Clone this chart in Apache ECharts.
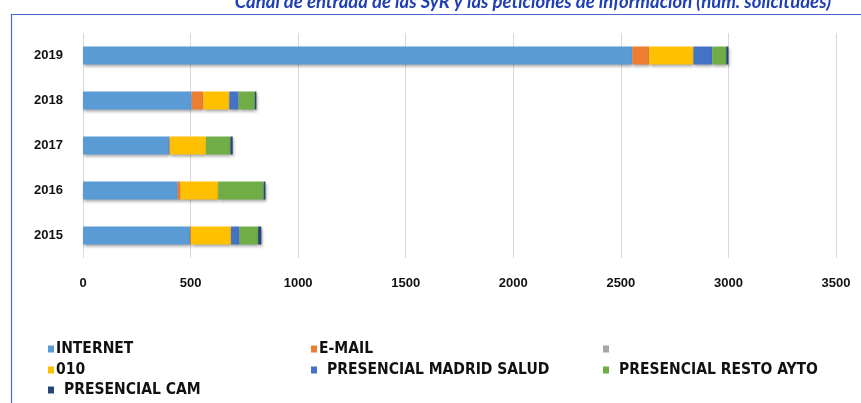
<!DOCTYPE html>
<html>
<head>
<meta charset="utf-8">
<script src="https://cdn.jsdelivr.net/npm/echarts@6/dist/echarts.min.js"></script>
<style>
  html, body { margin: 0; padding: 0; background: #fff; }
  #chart { width: 861px; height: 403px; }
</style>
</head>
<body>
<div id="chart"></div>
<script>
"use strict";

// categorias (de abajo a arriba)
var years = ["2015", "2016", "2017", "2018", "2019"];

// valores por canal, mismo orden que years
var internet      = [498, 440, 402, 505, 2553];
var email         = [4, 13, 3, 54, 79];
var sinNombre     = [0, 0, 0, 0, 0];
var tel010        = [186, 175, 166, 121, 205];
var madridSalud   = [39, 0, 0, 43, 88];
var restoAyto     = [87, 212, 114, 76, 65];
var presencialCam = [15, 8, 11, 7, 10];

var seriesNames = ["INTERNET", "E-MAIL", " ", "010", "PRESENCIAL MADRID SALUD", "PRESENCIAL RESTO AYTO", "PRESENCIAL CAM"];
var seriesData = [internet, email, sinNombre, tel010, madridSalud, restoAyto, presencialCam];
var colors = ["#5B9BD5", "#ED7D31", "#A5A5A5", "#FFC000", "#4472C4", "#70AD47", "#264478"];

// posiciones de la leyenda (3 columnas)
var legendPos = [
    [43, 336], [306, 336], [598, 336],
    [43, 357], [306, 357], [598, 357],
    [43, 377]
];
var legendTextPad = [-3, -3, 4, -3, 5, 5, 5];

var series = [];
var legends = [];
for (var i = 0; i < seriesNames.length; i++) {
    series.push({
        name: seriesNames[i],
        type: 'bar',
        stack: 'total',
        barWidth: 18,
        data: seriesData[i],
        itemStyle: {
            color: colors[i],
            shadowColor: 'rgba(0,0,0,0.35)',
            shadowBlur: 3,
            shadowOffsetX: 1,
            shadowOffsetY: 2
        }
    });
    legends.push({
        data: [seriesNames[i]],
        left: legendPos[i][0],
        top: legendPos[i][1],
        icon: 'rect',
        itemWidth: 6,
        itemHeight: 7,
        itemGap: 0,
        selectedMode: false,
        textStyle: {
            fontFamily: 'DejaVu Sans Condensed',
            fontWeight: 'bold',
            fontSize: 15.5,
            color: '#111',
            padding: [0, 0, 0, legendTextPad[i]]
        }
    });
}

var axisFont = {
    fontFamily: 'Liberation Sans',
    fontWeight: 'bold',
    fontSize: 13,
    color: '#111'
};

var option = {
    animation: false,
    title: {
        text: 'Canal de entrada de las SyR y las peticiones de información (núm. solicitudes)',
        left: 528,
        textAlign: 'center',
        top: -12,
        textStyle: {
            fontFamily: 'Lato',
            fontStyle: 'italic',
            fontWeight: 'bold',
            fontSize: 18.5,
            color: '#1F3FB5'
        }
    },
    graphic: [{
        type: 'rect',
        left: 9,
        top: 12,
        shape: { width: 900, height: 500 },
        style: { fill: 'none', stroke: '#4A6CD0', lineWidth: 1.2 },
        silent: true
    }],
    legend: legends,
    grid: { left: 83, right: 25, top: 33, bottom: 145 },
    xAxis: {
        type: 'value',
        min: 0,
        max: 3500,
        interval: 500,
        axisLine: { show: false },
        axisTick: { show: false },
        splitLine: { lineStyle: { color: '#D9D9D9' } },
        axisLabel: Object.assign({ margin: 19, formatter: function (v) { return String(v); } }, axisFont)
    },
    yAxis: {
        type: 'category',
        data: years,
        axisLine: { show: false },
        axisTick: { show: false },
        axisLabel: Object.assign({ margin: 20 }, axisFont)
    },
    series: series
};

var myChart = echarts.init(document.getElementById('chart'));
myChart.setOption(option);
</script>
</body>
</html>
